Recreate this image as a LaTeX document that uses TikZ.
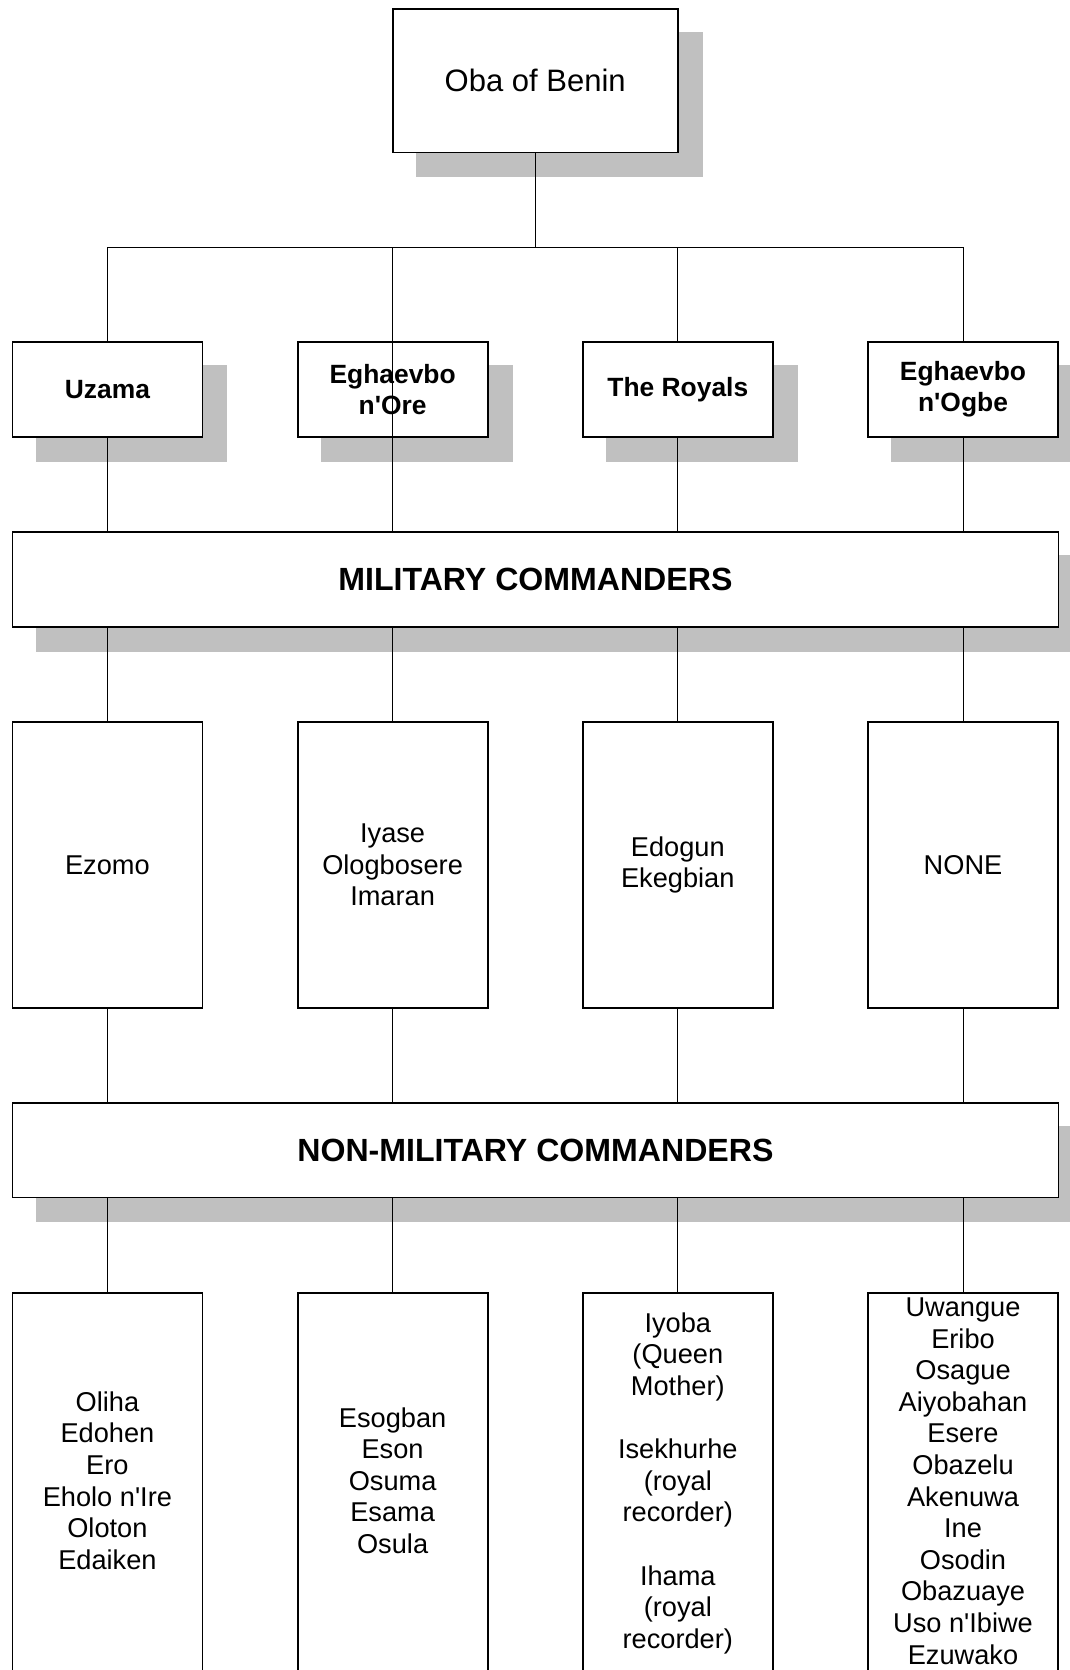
\documentclass[tikz,border=0pt]{standalone}
\usepackage{fontspec}
\setmainfont{Liberation Sans}[Ligatures=TeXOff]
\pgfdeclarelayer{shadowlayer}
\pgfdeclarelayer{linelayer}
\pgfsetlayers{shadowlayer,linelayer,main}
\definecolor{shadowgray}{RGB}{192,192,192}
\newcommand\obafont{\fontsize{31}{35}\selectfont}
\newcommand\grpfont{\bfseries\fontsize{26.4}{31}\selectfont}
\newcommand\bandfont{\bfseries\fontsize{32.1}{36}\selectfont}
\newcommand\listfont{\fontsize{27.2}{31.6}\selectfont}
\begin{document}
\begin{tikzpicture}[x=1pt,y=-1pt,
  box/.style={draw=black, line width=1.8pt, fill=white, inner sep=0pt, align=center},
  obabox/.style={box, minimum width=285pt, minimum height=143pt, font=\obafont},
  grpbox/.style={box, minimum width=190pt, minimum height=95pt, font=\grpfont},
  bandbox/.style={box, minimum width=1046pt, minimum height=95pt, font=\bandfont},
  midbox/.style={box, minimum width=190pt, minimum height=286pt, font=\listfont},
  lowbox/.style={box, minimum width=190pt, minimum height=382.6pt, font=\listfont},
  conn/.style={draw=black, line width=1pt},
  shadowfill/.style={fill=shadowgray, draw=none}]
\useasboundingbox (0,0) rectangle (1069,1670);

% top
\node[obabox] (oba) at (535.2,80.9) {Oba of Benin};

% second row
\node[grpbox] (u1) at (107.4,389.7) {Uzama};
\node[grpbox] (u2) at (392.6,389.7) {Eghaevbo\\n'Ore};
\node[grpbox] (u3) at (677.8,389.7) {The Royals};
\node[grpbox] (u4) at (963.0,389.7) {Eghaevbo\\n'Ogbe\rule[-6.3pt]{0pt}{6.3pt}};

% military band
\node[bandbox] (mil) at (535.4,579.8) {MILITARY COMMANDERS};

% third row
\node[midbox] (m1) at (107.4,865) {Ezomo};
\node[midbox] (m2) at (392.6,865) {Iyase\\Ologbosere\\Imaran};
\node[midbox] (m3) at (677.8,865) {Edogun\\Ekegbian};
\node[midbox] (m4) at (963.0,865) {NONE};

% non-military band
\node[bandbox, minimum height=94.5pt] (non) at (535.4,1150.2) {NON-MILITARY COMMANDERS};

% bottom row
\node[lowbox] (l1) at (107.4,1484) {\strut Oliha\\Edohen\\Ero\\Eholo n'Ire\\Oloton\\Edaiken\strut};
\node[lowbox] (l2) at (392.6,1484) {\strut Esogban\\Eson\\Osuma\\Esama\\Osula\strut};
\node[lowbox] (l3) at (677.8,1484) {\strut Iyoba\\(Queen\\Mother)\\\strut\\Isekhurhe\\(royal\\recorder)\\\strut\\Ihama\\(royal\\recorder)\strut};
\node[lowbox] (l4) at (963.0,1484) {\strut Uwangue\\Eribo\\Osague\\Aiyobahan\\Esere\\Obazelu\\Akenuwa\\Ine\\Osodin\\Obazuaye\\Uso n'Ibiwe\\Ezuwako\strut};

% shadows
\begin{pgfonlayer}{shadowlayer}
\foreach \n in {oba,u1,u2,u3,u4,mil,non}
  \fill[shadowfill] ([shift={(24,24)}]\n.south west) rectangle ([shift={(24,24)}]\n.north east);
\end{pgfonlayer}

% connectors
\coordinate (bus) at (535.2,247.3);
\coordinate (j1) at (107.4,247.3);
\coordinate (j2) at (392.6,247.3);
\coordinate (j3) at (677.8,247.3);
\coordinate (j4) at (963.0,247.3);
\begin{pgfonlayer}{linelayer}
\draw[conn] (oba.south) -- (bus);
\draw[conn] (j1) -- (j4);
\draw[conn] (j1) -- (u1.north);
\draw[conn] (j3) -- (u3.north);
\draw[conn] (j4) -- (u4.north);
\foreach \i in {1,2,3,4} {
  \draw[conn] (u\i.south) -- (u\i.south |- mil.north);
  \draw[conn] (m\i.north |- mil.south) -- (m\i.north);
  \draw[conn] (m\i.south) -- (m\i.south |- non.north);
  \draw[conn] (l\i.north |- non.south) -- (l\i.north);
}
\end{pgfonlayer}
% the line to the second group runs across its box
\draw[conn] (j2) -- (u2.south);
\end{tikzpicture}
\end{document}
